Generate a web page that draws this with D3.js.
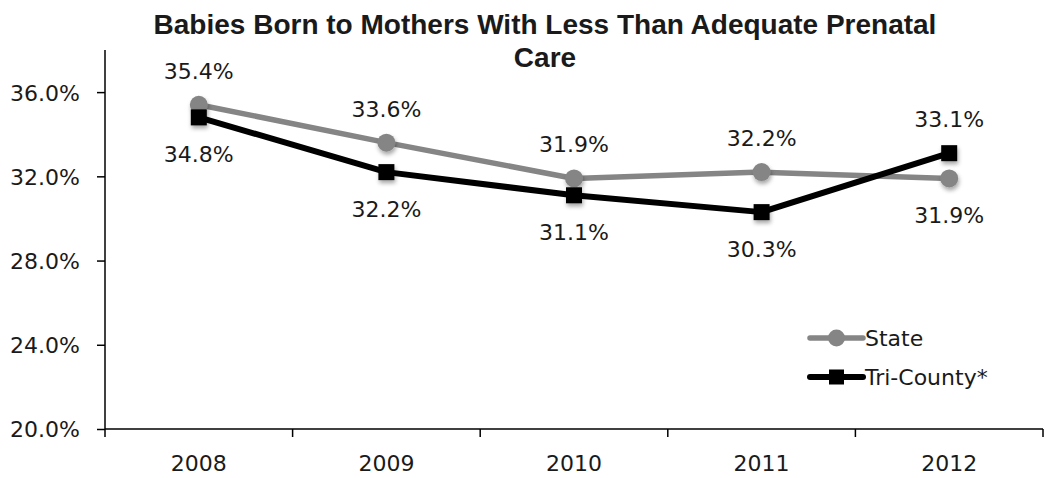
<!DOCTYPE html>
<html><head><meta charset="utf-8">
<script src="https://cdn.jsdelivr.net/npm/d3@7"></script>
<style>
html,body{margin:0;padding:0;background:#fff;}
text{font-family:"DejaVu Sans",sans-serif;fill:#1a1a1a;}
</style></head>
<body>
<svg id="chart" width="1045" height="478"></svg>
<script>
const years = ["2008","2009","2010","2011","2012"];
const stateValues = [35.4, 33.6, 31.9, 32.2, 31.9];
const triCountyValues = [34.8, 32.2, 31.1, 30.3, 33.1];
const yTicks = [20, 24, 28, 32, 36];
const seriesNames = ["State", "Tri-County*"];
const titleLines = ["Babies Born to Mothers With Less Than Adequate Prenatal", "Care"];

(function(){
const svg = d3.select("#chart");
const pL = 105, pR = 1043, pT = 50, pB = 429;

const defs = svg.append("defs");
const f = defs.append("filter").attr("id","sh").attr("x","-50%").attr("y","-50%").attr("width","200%").attr("height","200%");
f.append("feDropShadow").attr("dx",1).attr("dy",3).attr("stdDeviation",2).attr("flood-color","#000").attr("flood-opacity",0.35);

const x = d3.scaleBand().domain(years).range([pL, pR]);
const y = d3.scaleLinear().domain([20, 38]).range([pB, pT]);
const cx = d => x(d) + x.bandwidth()/2;

// Title
svg.append("text").attr("x", 545).attr("y", 34).attr("text-anchor","middle")
  .style("font-family","'Liberation Sans',Arial,sans-serif").style("font-weight","bold").style("font-size","28px")
  .text(titleLines[0]);
svg.append("text").attr("x", 545).attr("y", 67).attr("text-anchor","middle")
  .style("font-family","'Liberation Sans',Arial,sans-serif").style("font-weight","bold").style("font-size","28px")
  .text(titleLines[1]);

// Y axis
const yAxis = svg.append("g").attr("transform",`translate(${pL},0)`)
  .call(d3.axisLeft(y).tickValues(yTicks).tickSize(8).tickPadding(17).tickFormat(d => d.toFixed(1) + "%"));
yAxis.select(".domain").attr("d", `M0,${pT}V${pB}`).attr("stroke","#000").attr("stroke-width",1.5);
yAxis.selectAll(".tick line").attr("stroke","#000").attr("stroke-width",1.5);
yAxis.selectAll(".tick text").style("font-size","22px").attr("fill","#1a1a1a").style("font-family","'DejaVu Sans',sans-serif").attr("dy","0.36em");

// X axis
const xAxis = svg.append("g").attr("transform",`translate(0,${pB})`)
  .call(d3.axisBottom(x).tickSize(0).tickPadding(26));
xAxis.select(".domain").attr("d", `M${pL},0H${pR}`).attr("stroke","#000").attr("stroke-width",1.5);
xAxis.selectAll(".tick text").style("font-size","22px").attr("fill","#1a1a1a").style("font-family","'DejaVu Sans',sans-serif");
const bounds = years.map(d => x(d)).concat([pR]);
xAxis.selectAll(".bt").data(bounds).enter().append("line")
  .attr("x1", d => d).attr("x2", d => d).attr("y1", 0).attr("y2", 8)
  .attr("stroke","#000").attr("stroke-width",1.5);

const gray = "#858585";
const line = d3.line().x((d,i) => cx(years[i])).y(d => y(d));

svg.append("path").datum(stateValues).attr("d", line).attr("fill","none")
  .attr("stroke", gray).attr("stroke-width", 5.5).attr("stroke-linejoin","round");
svg.append("path").datum(triCountyValues).attr("d", line).attr("fill","none")
  .attr("stroke", "#000").attr("stroke-width", 6).attr("stroke-linejoin","round");

svg.selectAll(".sm").data(stateValues).enter().append("circle")
  .attr("cx",(d,i)=>cx(years[i])).attr("cy", d=>y(d)).attr("r", 9)
  .attr("fill", gray).attr("filter","url(#sh)");
svg.selectAll(".tm").data(triCountyValues).enter().append("rect")
  .attr("x",(d,i)=>cx(years[i])-8).attr("y", d=>y(d)-8).attr("width",16).attr("height",16)
  .attr("fill","#000").attr("filter","url(#sh)");

const fmt = d => d.toFixed(1) + "%";
stateValues.forEach((v,i) => {
  const above = i < 4;
  svg.append("text").attr("x", cx(years[i])).attr("y", above ? y(v) - 26 : y(v) + 45)
    .attr("text-anchor","middle").style("font-size","22px").text(fmt(v));
});
triCountyValues.forEach((v,i) => {
  const above = i === 4;
  svg.append("text").attr("x", cx(years[i])).attr("y", above ? y(v) - 26 : y(v) + 45)
    .attr("text-anchor","middle").style("font-size","22px").text(fmt(v));
});

const legend = [
  {name: seriesNames[0], color: gray, w: 5.5, shape: "circle", ly: 338},
  {name: seriesNames[1], color: "#000", w: 6, shape: "rect", ly: 377}
];
legend.forEach(l => {
  svg.append("line").attr("x1", 810).attr("x2", 863).attr("y1", l.ly).attr("y2", l.ly)
    .attr("stroke", l.color).attr("stroke-width", l.w).attr("stroke-linecap","round");
  if (l.shape === "circle") {
    svg.append("circle").attr("cx", 836.5).attr("cy", l.ly).attr("r", 8.5).attr("fill", l.color);
  } else {
    svg.append("rect").attr("x", 829).attr("y", l.ly - 7.5).attr("width", 15).attr("height", 15).attr("fill", l.color);
  }
  svg.append("text").attr("x", 865).attr("y", l.ly + 8).style("font-size","22px").text(l.name);
});
})();
</script>
</body></html>
